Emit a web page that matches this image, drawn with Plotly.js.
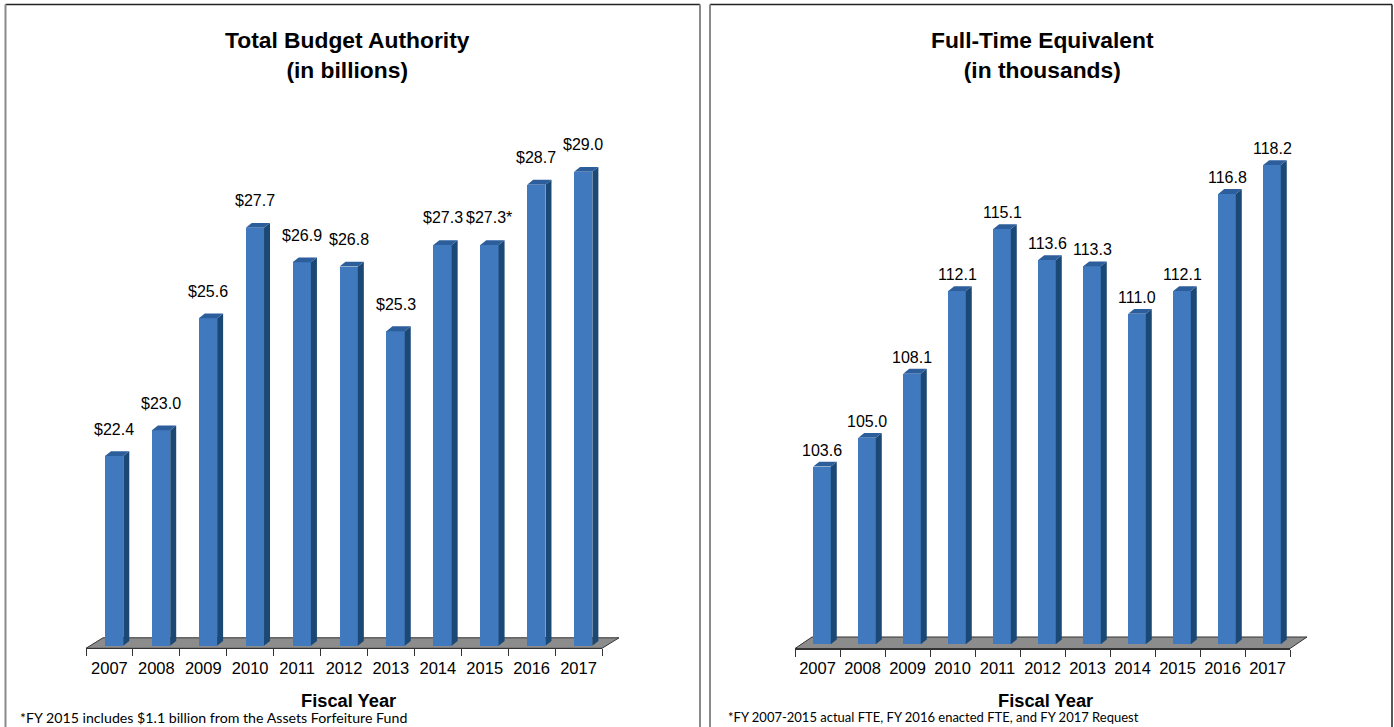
<!DOCTYPE html>
<html>
<head>
<meta charset="utf-8">
<script src="https://cdn.plot.ly/plotly-3.0.1.min.js"></script>
<style>
html, body { margin: 0; padding: 0; background: #ffffff; }
#chart { width: 1394px; height: 727px; }
</style>
</head>
<body>
<div id="chart"></div>
<script>
// ---------------- data ----------------
const years = ['2007', '2008', '2009', '2010', '2011', '2012', '2013', '2014', '2015', '2016', '2017'];
const budgetValues = [22.4, 23.0, 25.6, 27.7, 26.9, 26.8, 25.3, 27.3, 27.3, 28.7, 29.0];
const budgetLabels = ['$22.4', '$23.0', '$25.6', '$27.7', '$26.9', '$26.8', '$25.3', '$27.3', '$27.3*', '$28.7', '$29.0'];
const fteValues = [103.6, 105.0, 108.1, 112.1, 115.1, 113.6, 113.3, 111.0, 112.1, 116.8, 118.2];
const fteLabels = ['103.6', '105.0', '108.1', '112.1', '115.1', '113.6', '113.3', '111.0', '112.1', '116.8', '118.2'];

const budgetTitle = 'Total Budget Authority<br>(in billions)';
const fteTitle = 'Full-Time Equivalent<br>(in thousands)';
const xTitle = 'Fiscal Year';
const budgetNote = '*FY 2015 includes $1.1 billion from the Assets Forfeiture Fund';
const fteNote = '*FY 2007-2015 actual FTE, FY 2016 enacted FTE, and FY 2017 Request';

// ---------------- layout helpers ----------------
const W = 1394, H = 727;
const px = x => x / W;
const py = y => (H - y) / H;

const FRONT = '#4179BE';
const SIDE = '#1B4874';
const TOP = '#2C5E9C';
const FLOOR = '#8C8C8C';
const DARK = '#333333';
const FONT = 'Liberation Sans, Arial, sans-serif';
const NOTE_FONT = 'Lato, Carlito, Calibri, sans-serif';

const BAR_W = 0.39, BAR_OFF = -0.095;
const SIDE_DX = 6, TOP_DY = 4.8;

const panels = [
  { xa: 'x', ya: 'y', xaxisKey: 'xaxis', yaxisKey: 'yaxis',
    vals: budgetValues, labels: budgetLabels, title: budgetTitle, note: budgetNote,
    left: 86, right: 602, axisY: 648.3, baseY: 645.7, topY: 100, base: 18, ppu: 43.09,
    floorDx: 17, floorDy: 10.5, labelGap: 27, titleX: 347, xTitleX: 348, noteX: 18, noteSize: 14.2,
    boxL: 5.5, boxR: 700, rightDark: false },
  { xa: 'x2', ya: 'y2', xaxisKey: 'xaxis2', yaxisKey: 'yaxis2',
    vals: fteValues, labels: fteLabels, title: fteTitle, note: fteNote,
    left: 795, right: 1290, axisY: 648.5, baseY: 644.3, topY: 100, base: 95, ppu: 20.66,
    floorDx: 17, floorDy: 11.5, labelGap: 16.5, titleX: 1042, xTitleX: 1045, noteX: 726, noteSize: 13,
    boxL: 710, boxR: 1392, rightDark: true }
];

const data = [];
const shapes = [];
const annotations = [];
const layout = {
  width: W, height: H,
  margin: { l: 0, r: 0, t: 0, b: 0 },
  paper_bgcolor: '#ffffff', plot_bgcolor: 'rgba(0,0,0,0)',
  showlegend: false,
  bargap: 0
};

panels.forEach(p => {
  const idx = years.map((_, i) => i);
  const catPx = (p.right - p.left) / years.length;
  const ddx = SIDE_DX / catPx;
  const ddy = TOP_DY / p.ppu;

  layout[p.xaxisKey] = {
    domain: [px(p.left), px(p.right)],
    range: [-0.5, years.length - 0.5],
    anchor: p.ya,
    tickmode: 'array', tickvals: idx, ticktext: years,
    ticks: '', ticklabelstandoff: 5,
    showline: true, linecolor: DARK, linewidth: 1,
    showgrid: false, zeroline: false, fixedrange: true,
    tickfont: { family: FONT, size: 16.5, color: '#000' },
    minor: { tickmode: 'linear', tick0: -0.5, dtick: 1, ticks: 'outside', ticklen: 7,
             tickcolor: DARK, tickwidth: 1, showgrid: false }
  };
  layout[p.yaxisKey] = {
    domain: [py(p.axisY), py(p.topY)],
    range: [p.base - (p.axisY - p.baseY) / p.ppu, p.base + (p.baseY - p.topY) / p.ppu],
    anchor: p.xa, visible: false, fixedrange: true
  };

  // floor
  shapes.push({
    type: 'path', xref: 'paper', yref: 'paper', layer: 'below',
    path: `M ${px(p.left)},${py(p.axisY)} L ${px(p.right)},${py(p.axisY)} L ${px(p.right + p.floorDx)},${py(p.axisY - p.floorDy)} L ${px(p.left + p.floorDx)},${py(p.axisY - p.floorDy)} Z`,
    fillcolor: FLOOR, line: { color: DARK, width: 1 }
  });

  // bars (front faces)
  data.push({
    type: 'bar', x: idx, y: p.vals.map(v => v - p.base), base: p.base,
    width: BAR_W, offset: BAR_OFF,
    marker: { color: FRONT, line: { width: 0 } },
    xaxis: p.xa, yaxis: p.ya, hoverinfo: 'skip'
  });

  // 3D side and top faces
  p.vals.forEach((v, i) => {
    const xl = i + BAR_OFF;
    const xr = xl + BAR_W;
    shapes.push({
      type: 'path', xref: p.xa, yref: p.ya, layer: 'above',
      path: `M ${xr},${p.base} L ${xr},${v} L ${xr + ddx},${v + ddy} L ${xr + ddx},${p.base + ddy} Z`,
      fillcolor: SIDE, line: { width: 0 }
    });
    shapes.push({
      type: 'path', xref: p.xa, yref: p.ya, layer: 'above',
      path: `M ${xl},${v} L ${xr},${v} L ${xr + ddx},${v + ddy} L ${xl + ddx},${v + ddy} Z`,
      fillcolor: TOP, line: { width: 0 }
    });
    annotations.push({
      xref: p.xa, yref: p.ya, x: xl + BAR_W / 2, y: v,
      yanchor: 'middle', xanchor: 'center', yshift: p.labelGap,
      text: p.labels[i], showarrow: false,
      font: { family: FONT, size: 16, color: '#000' }
    });
  });

  // titles & notes
  annotations.push({
    xref: 'paper', yref: 'paper', x: px(p.titleX), y: py(55),
    xanchor: 'center', yanchor: 'middle', showarrow: false,
    text: '<b>' + p.title.replace('<br>', '</b><br><b>') + '</b>',
    font: { family: FONT, size: 22.8, color: '#000' }
  });
  annotations.push({
    xref: 'paper', yref: 'paper', x: px(p.xTitleX), y: py(700),
    xanchor: 'center', yanchor: 'middle', showarrow: false,
    text: '<b>' + xTitle + '</b>',
    font: { family: FONT, size: 18.3, color: '#000' }
  });
  annotations.push({
    xref: 'paper', yref: 'paper', x: px(p.noteX), y: py(717),
    xanchor: 'left', yanchor: 'middle', showarrow: false,
    text: p.note,
    font: { family: NOTE_FONT, size: p.noteSize, color: '#000' }
  });

  // panel frame
  shapes.push({ type: 'line', xref: 'paper', yref: 'paper', layer: 'above',
    x0: px(p.boxL), x1: px(p.boxR), y0: py(4.5), y1: py(4.5),
    line: { color: '#222222', width: 1.3 } });
  shapes.push({ type: 'line', xref: 'paper', yref: 'paper', layer: 'above',
    x0: px(p.boxL), x1: px(p.boxL), y0: py(4.5), y1: py(740),
    line: { color: '#8a8a8a', width: 2 } });
  shapes.push({ type: 'line', xref: 'paper', yref: 'paper', layer: 'above',
    x0: px(p.boxR), x1: px(p.boxR), y0: py(4.5), y1: py(740),
    line: { color: p.rightDark ? '#222222' : '#8a8a8a', width: p.rightDark ? 1.5 : 2 } });
});

layout.shapes = shapes;
layout.annotations = annotations;

Plotly.newPlot('chart', data, layout, { displayModeBar: false, staticPlot: true });
</script>
</body>
</html>
